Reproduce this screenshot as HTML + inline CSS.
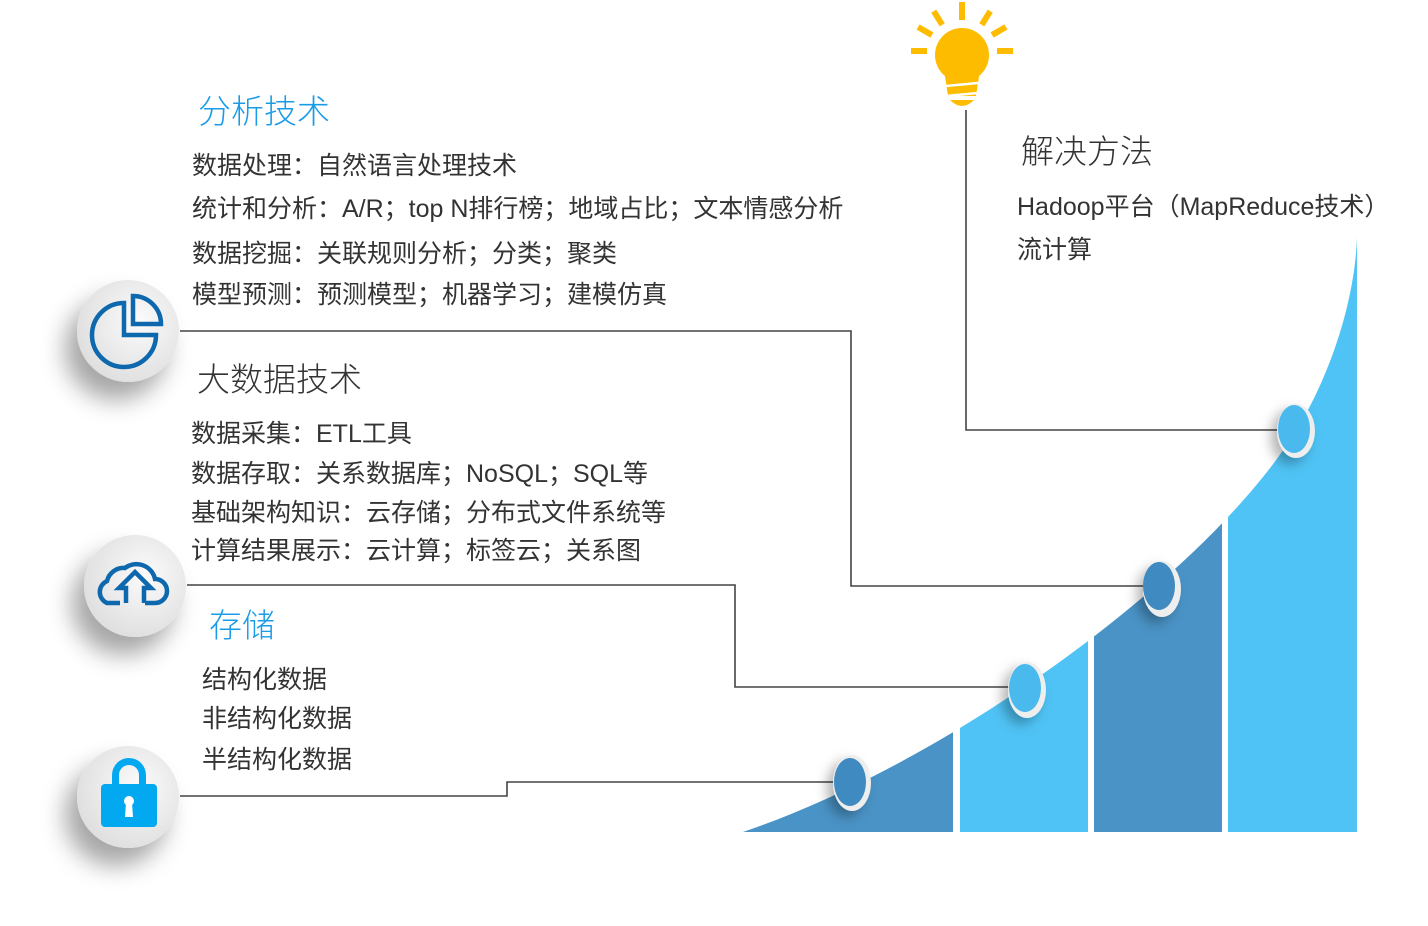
<!DOCTYPE html>
<html><head><meta charset="utf-8"><style>
body{margin:0;width:1428px;height:926px;background:#fff;overflow:hidden;position:relative;font-family:"Liberation Sans","Noto Sans CJK SC",sans-serif;}
.t{position:absolute;white-space:nowrap;color:#333;font-size:25px;line-height:1;}
.h{font-size:33px;font-weight:300;}
.b{color:#1a9be6;}
svg{position:absolute;left:0;top:0;}
</style></head><body>
<svg width="1428" height="926">
<defs>
<clipPath id="c"><path d="M743,832 C950,762 1200,578 1290,440 C1330,380 1355,300 1357,237 L1357,832 Z"/></clipPath>
<radialGradient id="g" cx="0.6" cy="0.4" r="0.7"><stop offset="0" stop-color="#fbfbfb"/><stop offset="1" stop-color="#dcdcdc"/></radialGradient>
<filter id="s" x="-50%" y="-50%" width="200%" height="200%"><feDropShadow dx="-12" dy="18" stdDeviation="12" flood-color="#000" flood-opacity="0.35"/></filter>
<filter id="s2" x="-80%" y="-80%" width="260%" height="260%"><feDropShadow dx="-6" dy="6" stdDeviation="6" flood-color="#000" flood-opacity="0.3"/></filter>
</defs>
<g clip-path="url(#c)">
<rect x="743" y="200" width="210" height="632" fill="#4a93c6"/>
<rect x="960" y="200" width="128" height="632" fill="#4fc3f5"/>
<rect x="1094" y="200" width="128" height="632" fill="#4a93c6"/>
<rect x="1228" y="200" width="129" height="632" fill="#4fc3f5"/>
</g>
<g fill="none" stroke="#444" stroke-width="1.6">
<polyline points="180,796 507,796 507,782 835,782"/>
<polyline points="187,585 735,585 735,687 1010,687"/>
<polyline points="180,331 851,331 851,586 1145,586"/>
<polyline points="966,110 966,430 1280,430"/>
</g>
<g filter="url(#s2)">
<ellipse cx="852" cy="783" rx="19" ry="28" fill="#eee"/>
<ellipse cx="1027" cy="690" rx="19" ry="28" fill="#eee"/>
<ellipse cx="1162" cy="589" rx="19" ry="28" fill="#eee"/>
<ellipse cx="1296" cy="431" rx="19" ry="27" fill="#eee"/>
</g>
<ellipse cx="850" cy="782" rx="16" ry="24" fill="#3f8ac0"/>
<ellipse cx="1025" cy="688" rx="16" ry="24" fill="#4ab9ee"/>
<ellipse cx="1159" cy="586" rx="16" ry="24" fill="#3f8ac0"/>
<ellipse cx="1294" cy="429" rx="16" ry="24" fill="#4ab9ee"/>
<g filter="url(#s)">
<circle cx="128" cy="331" r="51" fill="url(#g)"/>
<circle cx="135" cy="586" r="51" fill="url(#g)"/>
<circle cx="128" cy="797" r="51" fill="url(#g)"/>
</g>
<g fill="none" stroke="#0d68ad" stroke-width="4.5">
<path d="M124,303 A32,32 0 1 0 156,335 L124,335 Z"/>
<path d="M133,296 A28,28 0 0 1 161,324 L133,324 Z"/>
<path d="M120,603 L107,603 A12,12 0 0 1 107,581 A17,17 0 0 1 125,568 A19,19 0 0 1 155,579 A12,12 0 0 1 155,603 L145,603 M126,603 L126,588 L119,588 L135,572 L151,588 L144,588 L144,603"/>
</g>
<g fill="#03a9f0">
<path d="M112,786 L112,775 A17,17 0 0 1 146,775 L146,786 L139,786 L139,775 A10,10 0 0 0 119,775 L119,786 Z"/>
<rect x="101" y="784" width="56" height="43" rx="4"/>
</g>
<circle cx="129" cy="801" r="5" fill="#fff"/><path d="M126,803 L132,803 L133,817 L125,817 Z" fill="#fff"/>
<g fill="#fdbc00">
<circle cx="962" cy="55" r="27"/>
<path d="M944,70 L980,70 L976,96 L948,96 Z"/>
<path d="M950,100 L974,100 Q962,112 950,100 Z"/>
<rect x="959" y="2" width="6" height="18"/>
<rect x="911" y="48" width="16" height="6"/><rect x="997" y="48" width="16" height="6"/>
<rect x="935" y="10" width="6" height="16" transform="rotate(-32 938 18)"/>
<rect x="983" y="10" width="6" height="16" transform="rotate(32 986 18)"/>
<rect x="917" y="28" width="16" height="6" transform="rotate(30 925 31)"/>
<rect x="991" y="28" width="16" height="6" transform="rotate(-30 999 31)"/>
</g>
<g stroke="#fff" stroke-width="2.5"><line x1="946" y1="86" x2="978" y2="83"/><line x1="946" y1="96" x2="978" y2="93"/></g>
</svg>
<div class="t h b" style="left:198px;top:95px;">分析技术</div>
<div class="t" style="left:192px;top:154px;">数据处理：自然语言处理技术</div>
<div class="t" style="left:192px;top:197px;">统计和分析：A/R；top N排行榜；地域占比；文本情感分析</div>
<div class="t" style="left:192px;top:242px;">数据挖掘：关联规则分析；分类；聚类</div>
<div class="t" style="left:192px;top:283px;">模型预测：预测模型；机器学习；建模仿真</div>
<div class="t h" style="left:197px;top:363px;">大数据技术</div>
<div class="t" style="left:191px;top:422px;">数据采集：ETL工具</div>
<div class="t" style="left:191px;top:462px;">数据存取：关系数据库；NoSQL；SQL等</div>
<div class="t" style="left:191px;top:501px;">基础架构知识：云存储；分布式文件系统等</div>
<div class="t" style="left:191px;top:539px;">计算结果展示：云计算；标签云；关系图</div>
<div class="t h b" style="left:209px;top:609px;">存储</div>
<div class="t" style="left:202px;top:668px;">结构化数据</div>
<div class="t" style="left:202px;top:707px;">非结构化数据</div>
<div class="t" style="left:202px;top:748px;">半结构化数据</div>
<div class="t h" style="left:1021px;top:135px;">解决方法</div>
<div class="t" style="left:1017px;top:195px;">Hadoop平台（MapReduce技术）</div>
<div class="t" style="left:1017px;top:238px;">流计算</div>
</body></html>
